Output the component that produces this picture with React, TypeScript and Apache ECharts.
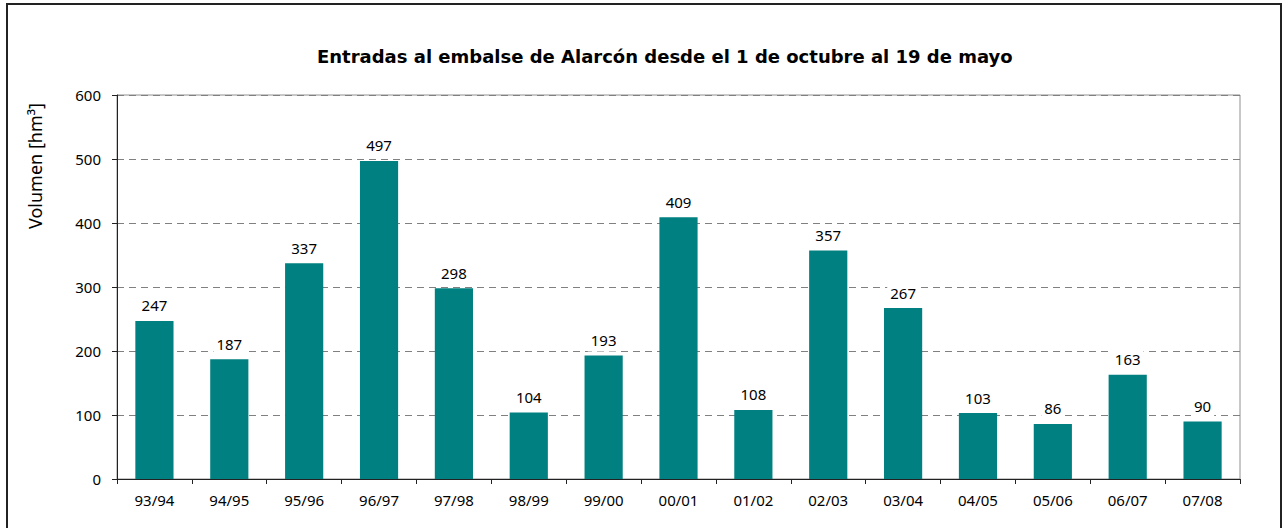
import React, { useEffect, useRef } from "react";
import * as echarts from "echarts";

const categories = ["93/94", "94/95", "95/96", "96/97", "97/98", "98/99", "99/00", "00/01", "01/02", "02/03", "03/04", "04/05", "05/06", "06/07", "07/08"];
const volumes = [247, 187, 337, 497, 298, 104, 193, 409, 108, 357, 267, 103, 86, 163, 90];
const titleText = "Entradas al embalse de Alarcón desde el 1 de octubre al 19 de mayo";
const yAxisTitle = "Volumen [hm³]";

const FONT = "'Noto Sans', sans-serif";

export default function App() {
  const ref = useRef<HTMLDivElement>(null);
  useEffect(() => {
    if (!ref.current) return;
    const chart = echarts.init(ref.current, null, { renderer: "svg" });
    chart.setOption({
      animation: false,
      backgroundColor: "#ffffff",
      title: {
        text: titleText,
        left: 312,
        top: 42,
        textStyle: { fontFamily: "'DejaVu Sans', sans-serif", fontSize: 18, fontWeight: "bold", color: "#000" },
      },
      grid: {
        left: 117,
        right: 46,
        top: 95,
        bottom: 49,
        show: true,
        borderColor: "#909090",
        borderWidth: 1,
        backgroundColor: "#fff",
      },
      graphic: [
        {
          type: "rect",
          shape: { x: 7, y: 4, width: 1274, height: 600 },
          style: { fill: "none", stroke: "#222", lineWidth: 2 },
          silent: true,
        },
        {
          type: "text",
          x: 35,
          y: 166,
          rotation: Math.PI / 2,
          style: {
            text: yAxisTitle,
            fontFamily: FONT,
            fontSize: 18,
            fill: "#000",
            align: "center",
            verticalAlign: "middle",
          },
        },
      ],
      xAxis: {
        type: "category",
        data: categories,
        axisLine: { lineStyle: { color: "#222", width: 1 } },
        axisTick: { show: true, length: 5, lineStyle: { color: "#222" } },
        axisLabel: { fontFamily: FONT, fontSize: 15, color: "#000", margin: 13 },
      },
      yAxis: {
        type: "value",
        min: 0,
        max: 600,
        interval: 100,
        axisLine: { show: true, lineStyle: { color: "#222", width: 1 } },
        axisTick: { show: true, length: 5, lineStyle: { color: "#222" } },
        axisLabel: { fontFamily: FONT, fontSize: 15, color: "#000", margin: 16 },
        splitLine: { show: true, lineStyle: { color: "#808080", type: [7, 5], width: 1 } },
      },
      series: [
        {
          type: "bar",
          data: volumes,
          barCategoryGap: "49%",
          itemStyle: { color: "#008080" },
          label: {
            show: true,
            position: "top",
            distance: 4,
            fontFamily: FONT,
            fontSize: 15,
            color: "#000",
            backgroundColor: "#fff",
            padding: [1, 3, 4, 3],
          },
        },
      ],
    });
    return () => chart.dispose();
  }, []);
  return <div ref={ref} style={{ position: "absolute", left: 0, top: 0, width: 1286, height: 528 }} />;
}
